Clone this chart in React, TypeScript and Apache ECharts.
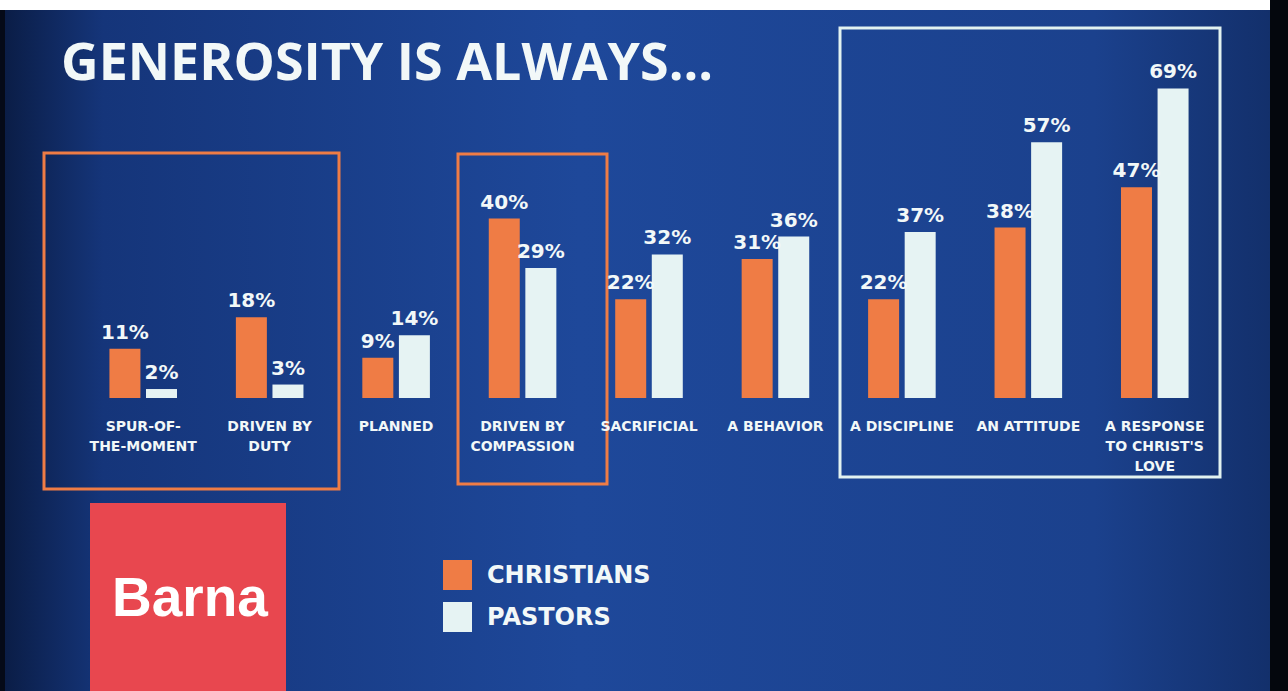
import React, { useEffect, useRef } from "react";
import * as echarts from "echarts";

const categories = [
  "SPUR-OF-\nTHE-MOMENT",
  "DRIVEN BY\nDUTY",
  "PLANNED",
  "DRIVEN BY\nCOMPASSION",
  "SACRIFICIAL",
  "A BEHAVIOR",
  "A DISCIPLINE",
  "AN ATTITUDE",
  "A RESPONSE\nTO CHRIST'S\nLOVE",
];
const christians = [11, 18, 9, 40, 22, 31, 22, 38, 47];
const pastors = [2, 3, 14, 29, 32, 36, 37, 57, 69];
const seriesNames = ["CHRISTIANS", "PASTORS"];
const titleText = "GENEROSITY IS ALWAYS...";
const logoText = "Barna";

const ORANGE = "#ef7c45";
const PALE = "#e6f3f3";
const TXT = "#f2f8f8";
const WIDE = "'DejaVu Sans', sans-serif";

export default function App() {
  const ref = useRef<HTMLDivElement>(null);
  useEffect(() => {
    if (!ref.current) return;
    const chart = echarts.init(ref.current, null, { renderer: "svg" });
    const labelStyle = {
      show: true,
      position: "top",
      distance: 7,
      color: TXT,
      fontSize: 20,
      fontWeight: "bold",
      fontFamily: WIDE,
      formatter: "{c}%",
    };
    chart.setOption({
      animation: false,
      backgroundColor: "#0e2452",
      grid: { left: 80, right: 70, top: 84, bottom: 293 },
      legend: {
        orient: "vertical",
        left: 443,
        top: 560,
        padding: 0,
        itemWidth: 29,
        itemHeight: 30,
        itemGap: 12,
        icon: "rect",
        textStyle: {
          color: TXT,
          fontSize: 24,
          fontWeight: "bold",
          fontFamily: WIDE,
          padding: [0, 0, 0, 10],
        },
        data: seriesNames,
      },
      xAxis: {
        type: "category",
        data: categories,
        axisLine: { show: false },
        axisTick: { show: false },
        axisLabel: {
          interval: 0,
          margin: 18,
          color: TXT,
          fontSize: 14,
          fontWeight: "bold",
          lineHeight: 20,
          fontFamily: WIDE,
        },
      },
      yAxis: {
        type: "value",
        min: 0,
        max: 70,
        show: false,
        splitLine: { show: false },
      },
      series: [
        {
          name: seriesNames[0],
          type: "bar",
          data: christians,
          barWidth: 31,
          barGap: "18%",
          itemStyle: { color: ORANGE },
          label: labelStyle,
        },
        {
          name: seriesNames[1],
          type: "bar",
          data: pastors,
          barWidth: 31,
          itemStyle: { color: PALE },
          label: labelStyle,
        },
      ],
      graphic: [
        {
          type: "rect",
          z: -10,
          silent: true,
          shape: { x: 0, y: 0, width: 1288, height: 691 },
          style: {
            fill: new echarts.graphic.LinearGradient(0, 0, 1, 0, [
              { offset: 0, color: "#0a1c44" },
              { offset: 0.08, color: "#15357a" },
              { offset: 0.45, color: "#1e489a" },
              { offset: 0.85, color: "#1b418d" },
              { offset: 1, color: "#122e68" },
            ]),
          },
        },
        {
          type: "rect",
          z: -9,
          silent: true,
          shape: { x: 0, y: 0, width: 1288, height: 10 },
          style: { fill: "#ffffff" },
        },
        {
          type: "rect",
          z: -9,
          silent: true,
          shape: { x: 1270, y: 0, width: 18, height: 691 },
          style: { fill: "#04070d" },
        },
        {
          type: "rect",
          z: -9,
          silent: true,
          shape: { x: 0, y: 10, width: 5, height: 681 },
          style: { fill: "#050a18" },
        },
        {
          type: "text",
          left: 61,
          top: 33,
          style: {
            text: titleText,
            fill: TXT,
            fontSize: 52,
            fontWeight: "bold",
            fontFamily: "'Open Sans', sans-serif",
          },
        },
        {
          type: "rect",
          shape: { x: 44, y: 153, width: 295, height: 336 },
          style: { fill: "none", stroke: ORANGE, lineWidth: 3 },
        },
        {
          type: "rect",
          shape: { x: 458, y: 154, width: 149, height: 330 },
          style: { fill: "none", stroke: ORANGE, lineWidth: 3 },
        },
        {
          type: "rect",
          shape: { x: 840, y: 28, width: 380, height: 449 },
          style: { fill: "none", stroke: "#e2f2f0", lineWidth: 3 },
        },
        {
          type: "rect",
          shape: { x: 90, y: 503, width: 196, height: 188 },
          style: { fill: "#e8474f" },
        },
        {
          type: "text",
          x: 190,
          y: 597,
          style: {
            text: logoText,
            fill: "#ffffff",
            fontSize: 55,
            fontWeight: "bold",
            fontFamily: "'Liberation Sans', Arial, sans-serif",
            align: "center",
            verticalAlign: "middle",
          },
        },
      ],
    });
    return () => chart.dispose();
  }, []);
  return (
    <div
      ref={ref}
      style={{ position: "fixed", left: 0, top: 0, width: 1288, height: 691 }}
    />
  );
}
